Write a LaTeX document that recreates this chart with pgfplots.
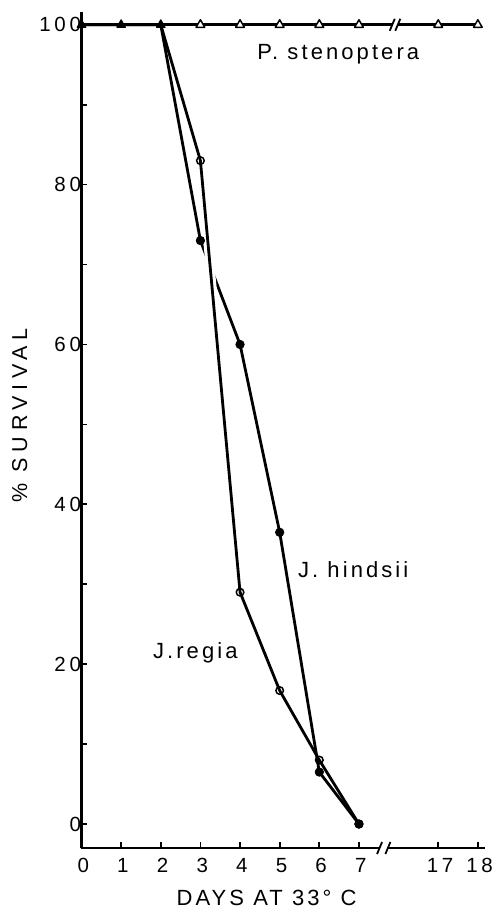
\documentclass[border=0pt]{standalone}
\usepackage{pgfplots}
\usepackage{pgfplotstable}
\pgfplotsset{compat=1.18}
\usepackage{fontspec}
\setmainfont{Liberation Sans}
\newcommand\lbl{\fontsize{22}{24}\selectfont\addfontfeature{LetterSpace=14}}
\newcommand\tkl{\fontsize{20.5}{21}\selectfont\addfontfeature{LetterSpace=18}}

% x positions: days 0..7 at 0..7, day 17 at 9, day 18 at 10 (broken axis)
\pgfplotstableread{
x y
0 100
1 100
2 100
3 73
4 60
5 36.5
6 6.5
7 0
}\hindsii
\pgfplotstableread{
x y
0 100
1 100
2 100
3 83
4 29
5 16.7
6 8
7 0
}\regia
\pgfplotstableread{
x y
0 100
1 100
2 100
3 100
4 100
5 100
6 100
7 100
9 100
10 100
}\stenoptera

\begin{document}
\begin{tikzpicture}[line cap=round, line join=round]
\path[use as bounding box] (-81.5pt,-61pt) rectangle (411.5pt,848pt);
\begin{axis}[
  at={(0pt,0pt)}, anchor=south west,
  scale only axis, width=403.5pt, height=836pt,
  xmin=0, xmax=10.18, ymin=-3, ymax=101.6,
  axis x line*=bottom, axis y line*=left,
  axis line style={line width=2.3pt,-},
  tick align=inside,
  major tick length=6pt, minor tick length=6pt,
  every tick/.style={line width=1.7pt, black},
  every minor tick/.style={line width=1.7pt, black},
  xtick={0,1,2,3,4,5,6,7,9,10},
  xticklabels={0,1,2,3,4,5,6,7,17,18},
  ytick={0,20,40,60,80,100},
  minor ytick={10,30,50,70,90},
  /pgf/number format/assume math mode=true,
  tick label style={font=\tkl},
  xticklabel style={yshift=-7pt, xshift=1.8pt},
  yticklabel style={xshift=3pt},
  clip=false,
]
% J. hindsii
\addplot[black, line width=2.8pt, mark=*, mark size=4.2pt, mark indices={4,5,6,7,8}, mark options={fill=black, line width=0.8pt}] table {\hindsii};
% gap where J. regia crosses
\addplot[white, line width=9pt, restrict x to domain=3:4, forget plot] table {\regia};
% J. regia
\addplot[black, line width=2.8pt, mark=o, mark size=3.8pt, mark indices={4,5,6,7,8}, mark options={fill=white, line width=1.5pt}] table {\regia};
% P. stenoptera
\addplot[black, line width=2.8pt, mark=triangle*, mark size=5pt, mark indices={4,5,6,7,8,9,10}, mark options={fill=white, line width=1.5pt}] table {\stenoptera};
\addplot[black, only marks, mark=triangle*, mark size=5pt, mark indices={1,2,3}, mark options={fill=black, line width=1pt}] table {\stenoptera};

% axis breaks
\fill[white] ([yshift=-4pt]axis cs:7.52,-3) rectangle ([yshift=4pt]axis cs:7.73,-3);
\draw[line width=1.8pt] ([xshift=-2.5pt,yshift=-6pt]axis cs:7.52,-3) -- ([xshift=2.5pt,yshift=6pt]axis cs:7.52,-3);
\draw[line width=1.8pt] ([xshift=-2.5pt,yshift=-6pt]axis cs:7.73,-3) -- ([xshift=2.5pt,yshift=6pt]axis cs:7.73,-3);
\fill[white] ([yshift=-4pt]axis cs:7.84,100) rectangle ([yshift=4pt]axis cs:7.98,100);
\draw[line width=1.8pt] ([xshift=-2.5pt,yshift=-6pt]axis cs:7.84,100) -- ([xshift=2.5pt,yshift=6pt]axis cs:7.84,100);
\draw[line width=1.8pt] ([xshift=-2.5pt,yshift=-6pt]axis cs:7.98,100) -- ([xshift=2.5pt,yshift=6pt]axis cs:7.98,100);

% labels
\node[anchor=base west, inner sep=0pt, font=\lbl] at (axis cs:4.43,95.7) {P. stenoptera};
\node[anchor=base west, inner sep=0pt, font=\lbl] at (axis cs:5.46,30.9) {J. hindsii};
\node[anchor=base west, inner sep=0pt, font=\lbl] at (axis cs:1.80,20.7) {J.regia};
\node[anchor=base, inner sep=0pt, font=\lbl] at (axis cs:4.67,-10.14) {DAYS AT 33° C};
\node[rotate=90, anchor=center, inner sep=0pt, font={\fontsize{21.5}{24}\selectfont\addfontfeature{LetterSpace=26}}] at (axis cs:-1.56,51.1) {\% SURVIVAL};
\end{axis}
\end{tikzpicture}
\end{document}
